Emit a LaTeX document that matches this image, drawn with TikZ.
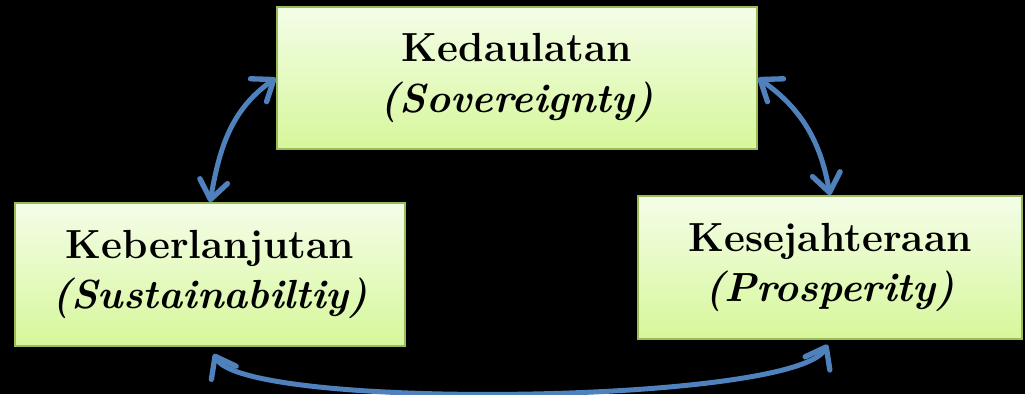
\documentclass[tikz,border=0pt]{standalone}
\usepackage{tikz}
\usetikzlibrary{arrows.meta}
\definecolor{boxline}{HTML}{9BBB59}
\definecolor{boxtop}{HTML}{F4FDE8}
\definecolor{boxbot}{HTML}{D6F79A}
\definecolor{arrowblue}{HTML}{4F81BD}

\begin{document}
\begin{tikzpicture}[x=0.75pt,y=0.75pt,
		pillar/.style={draw=boxline, line width=1.5pt, top color=boxtop, bottom color=boxbot,
			minimum height=107pt, align=center, inner sep=0pt,
			font=\fontsize{30.5}{37}\selectfont\bfseries},
		link/.style={draw=arrowblue, line width=3.75pt,
			{Straight Barb[length=14pt,width=21pt,line width=4pt,round]}-{Straight Barb[length=14pt,width=21pt,line width=4pt,round]}}]
		
		\fill[black] (0,0) rectangle (1025,-394);
		\useasboundingbox (0,0) rectangle (1025,-394);
		
		\node[pillar, minimum width=360pt] (kedaulatan) at (517,-78) {Kedaulatan\\[1pt]\textit{(Sovereignty)}};
		\node[pillar, minimum width=292.5pt] (keberlanjutan) at (210,-274.5) {Keberlanjutan\\[1pt]\textit{(Sustainabiltiy)}};
		\node[pillar, minimum width=288pt] (kesejahteraan) at (830,-267.5) {Kesejahteraan\\[1pt]\textit{(Prosperity)}};
		
		% curved double arrows between the three boxes
		\draw[link] (keberlanjutan.north) to[out=80, in=215] (kedaulatan.west);
		\draw[link] (kedaulatan.east) to[out=-35, in=100] (kesejahteraan.north);
		\draw[link, shorten <=6pt, shorten >=4pt] (keberlanjutan.south) to[out=-62, in=-118, looseness=0.3] (kesejahteraan.south);
	\end{tikzpicture}
\end{document}
